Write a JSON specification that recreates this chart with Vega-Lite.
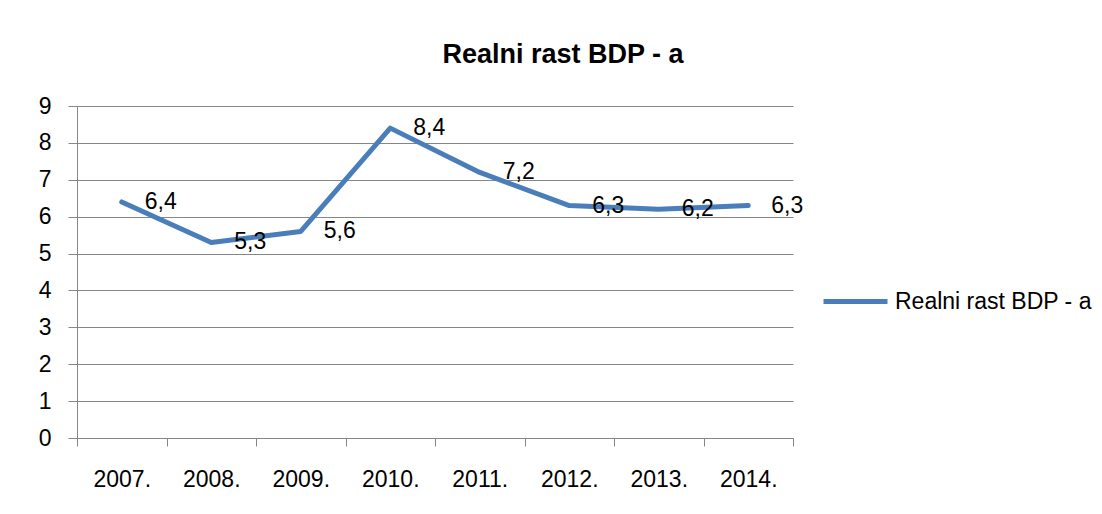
{
  "$schema": "https://vega.github.io/schema/vega-lite/v6.json",
  "autosize": "none",
  "width": 716,
  "height": 332,
  "padding": {"left": 77, "top": 106, "right": 309, "bottom": 76},
  "background": "white",
  "config": {
    "font": "Liberation Sans",
    "view": {"stroke": null},
    "locale": {"number": {"decimal": ",", "thousands": ".", "grouping": [3], "currency": ["", ""]}}
  },
  "title": {
    "text": "Realni rast BDP - a",
    "fontSize": 27,
    "fontWeight": "bold",
    "color": "#000000",
    "anchor": "middle",
    "frame": "group",
    "dx": 128,
    "offset": 26
  },
  "data": {
    "values": [
      {"godina": "2007.", "vrijednost": 6.4, "serija": "Realni rast BDP - a"},
      {"godina": "2008.", "vrijednost": 5.3, "serija": "Realni rast BDP - a"},
      {"godina": "2009.", "vrijednost": 5.6, "serija": "Realni rast BDP - a"},
      {"godina": "2010.", "vrijednost": 8.4, "serija": "Realni rast BDP - a"},
      {"godina": "2011.", "vrijednost": 7.2, "serija": "Realni rast BDP - a"},
      {"godina": "2012.", "vrijednost": 6.3, "serija": "Realni rast BDP - a"},
      {"godina": "2013.", "vrijednost": 6.2, "serija": "Realni rast BDP - a"},
      {"godina": "2014.", "vrijednost": 6.3, "serija": "Realni rast BDP - a"}
    ]
  },
  "encoding": {
    "x": {
      "field": "godina",
      "type": "ordinal",
      "sort": null,
      "scale": {"paddingInner": 0, "paddingOuter": 0},
      "axis": {
        "title": null,
        "labelAngle": 0,
        "labelFontSize": 23,
        "labelColor": "#000000",
        "labelBaseline": "top",
        "labelPadding": 22,
        "tickBand": "extent",
        "tickSize": 8,
        "tickColor": "#868686",
        "domainColor": "#868686",
        "grid": false
      }
    },
    "y": {
      "field": "vrijednost",
      "type": "quantitative",
      "scale": {"domain": [0, 9], "nice": false},
      "axis": {
        "title": null,
        "values": [0, 1, 2, 3, 4, 5, 6, 7, 8, 9],
        "format": "d",
        "labelFontSize": 23,
        "labelColor": "#000000",
        "labelPadding": 17,
        "tickSize": 9,
        "tickColor": "#868686",
        "domainColor": "#868686",
        "gridColor": "#868686",
        "gridWidth": 1,
        "grid": true
      }
    }
  },
  "layer": [
    {
      "mark": {"type": "line", "strokeWidth": 5, "strokeCap": "round", "strokeJoin": "round"},
      "encoding": {
        "color": {
          "field": "serija",
          "type": "nominal",
          "scale": {"range": ["#4A7EBB"]},
          "legend": {
            "title": null,
            "orient": "none",
            "legendX": 744,
            "legendY": 161,
            "padding": 0,
            "symbolType": "stroke",
            "symbolSize": 4096,
            "symbolStrokeWidth": 5,
            "labelFontSize": 23,
            "labelColor": "#000000",
            "labelOffset": 5,
            "labelLimit": 400
          }
        }
      }
    },
    {
      "mark": {"type": "text", "align": "left", "baseline": "middle", "dx": 23, "fontSize": 23, "color": "#000000"},
      "encoding": {
        "text": {"field": "vrijednost", "type": "quantitative", "format": ".1f"}
      }
    }
  ]
}
